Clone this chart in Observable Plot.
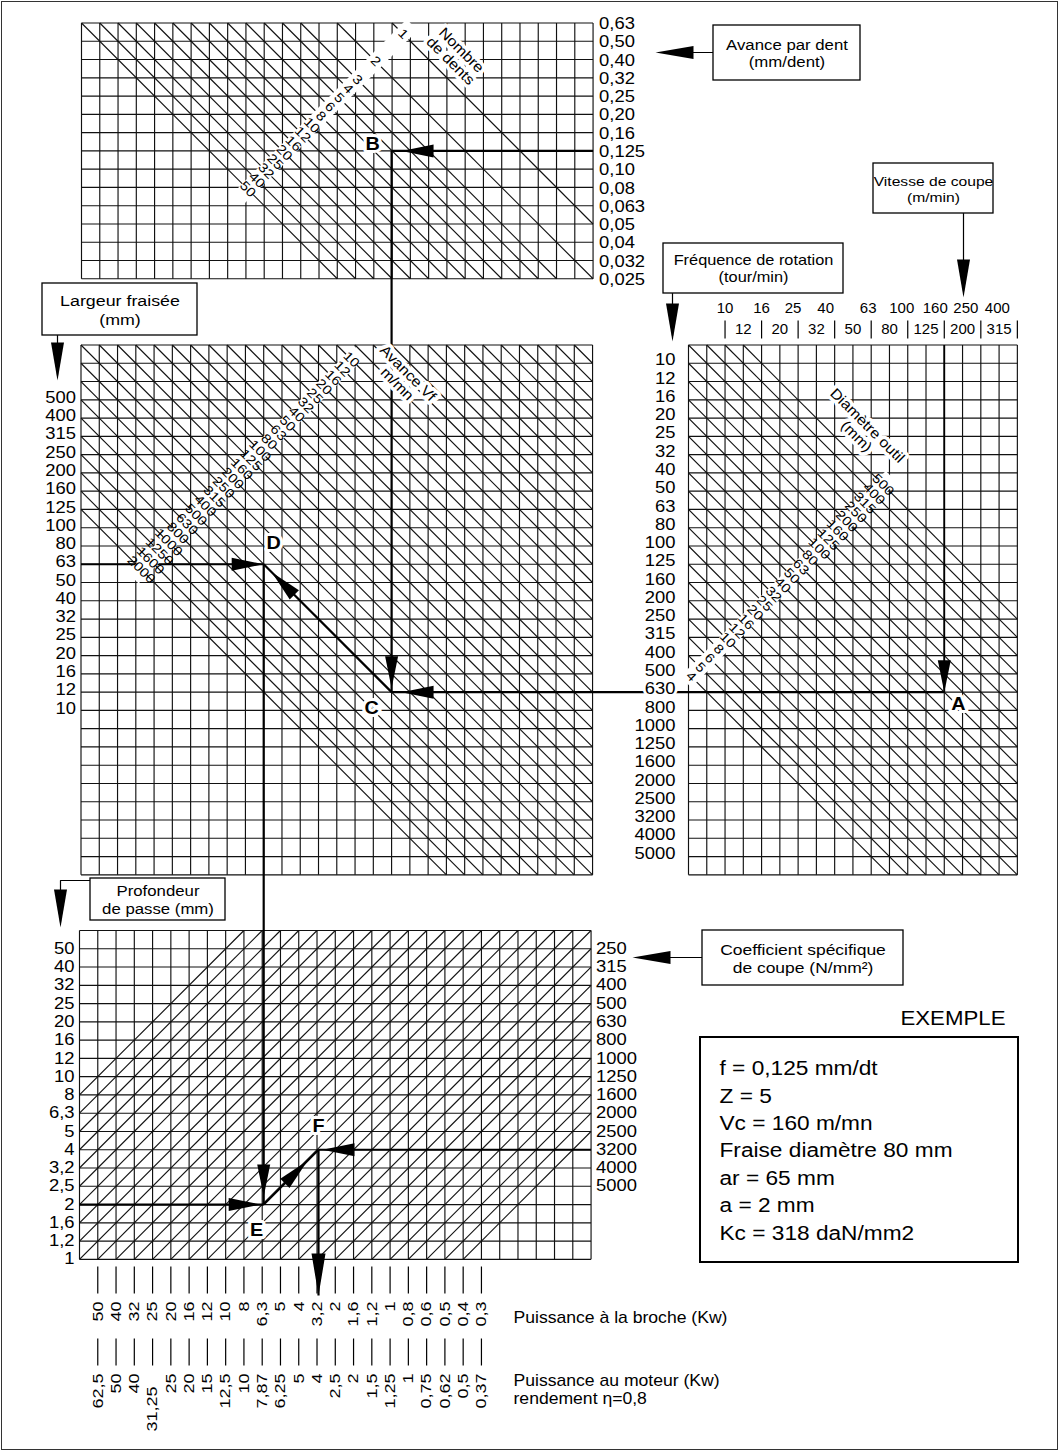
<!DOCTYPE html>
<html><head><meta charset="utf-8">
<script src="https://cdn.jsdelivr.net/npm/d3@7"></script>
<script src="https://cdn.jsdelivr.net/npm/@observablehq/plot@0.6"></script>
<style>body{margin:0;background:#fff}</style>
</head><body><div id="chart"></div>
<script>
// ---------------- DATA ----------------
// Avance par dent (mm/dent) – rows of the top panel (grid lines 0..14)
const fzTicks = ["0,63","0,50","0,40","0,32","0,25","0,20","0,16","0,125","0,10","0,08","0,063","0,05","0,04","0,032","0,025"];
// Nombre de dents – diagonal labels of the top panel, and the diagonal they sit on
const teethLabels = ["50","40","32","25","20","16","12","10","8","6","5","4","3","2","1"];
const teethDiag   = [0,1,2,3,4,5,6,7,8,9,10,11,12,14,17];
// Largeur fraisée (mm) – grid lines 3..20 of the middle-left panel
const widthTicks = ["500","400","315","250","200","160","125","100","80","63","50","40","32","25","20","16","12","10"];
// Avance Vf (mm/mn) – diagonal labels of the middle-left panel (diagonal 14 - i)
const feedLabels = ["10","12","16","20","25","32","40","50","63","80","100","125","160","200","250","315","400","500","630","800","1000","1250","1600","2000"];
// Fréquence de rotation (tour/min) – grid lines 1..28 of the right panel
const speedTicks = ["10","12","16","20","25","32","40","50","63","80","100","125","160","200","250","315","400","500","630","800","1000","1250","1600","2000","2500","3200","4000","5000"];
// Vitesse de coupe (m/min) – columns 2..18 of the right panel
const vcTicks = ["10","12","16","20","25","32","40","50","63","80","100","125","160","200","250","315","400"];
// Diamètre outil (mm) – diagonal labels of the right panel (diagonal i - 18)
const diamLabels = ["4","5","6","8","10","12","16","20","25","32","40","50","63","80","100","125","160","200","250","315","400","500"];
// Profondeur de passe (mm) – grid lines 1..18 of the bottom panel
const depthTicks = ["50","40","32","25","20","16","12","10","8","6,3","5","4","3,2","2,5","2","1,6","1,2","1"];
// Coefficient spécifique de coupe (N/mm²) – grid lines 1..14 of the bottom panel
const kcTicks = ["250","315","400","500","630","800","1000","1250","1600","2000","2500","3200","4000","5000"];
// Power scales – columns 1..22 of the bottom panel
const spindlePower = ["50","40","32","25","20","16","12","10","8","6,3","5","4","3,2","2","1,6","1,2","1","0,8","0,6","0,5","0,4","0,3"];
const motorPower   = ["62,5","50","40","31,25","25","20","15","12,5","10","7,87","6,25","5","4","2,5","2","1,5","1,25","1","0,75","0,62","0,5","0,37"];
// Worked example (values read on the scales)
const example = {fz: "0,125", Z: "5", Vc: "160", D: "80", ar: "63", a: "2", Kc: "3200"};
const exampleText = ["f = 0,125 mm/dt","Z = 5","Vc = 160 m/mn","Fraise diamètre 80 mm","ar = 65 mm","a = 2 mm","Kc = 318 daN/mm2"];

// ---------------- LAYOUT ----------------
const W = 1058, H = 1450;
const FONT = "'Liberation Sans', Arial, Helvetica, sans-serif";
const CELL = 18.27;
const P = {
  top:   {x0: 81,   y0: 22.5,  cols: 28, rows: 14},
  mid:   {x0: 80.5, y0: 344.5, cols: 28, rows: 29},
  right: {x0: 688,  y0: 344.5, cols: 18, rows: 29},
  bot:   {x0: 79,   y0: 930,   cols: 28, rows: 18}
};
const X = (p, c) => P[p].x0 + c * CELL;
const Y = (p, r) => P[p].y0 + r * CELL;
// print offsets of the upper Vc row (the printed row is slightly compressed) and of the "31,25" label
const vcTopShift = [0, 0, -5, -9, -3, -6, -9, -15, -20];
const motorShift = motorPower.map(d => d === "31,25" ? 13 : 0);

// grid
const grid = [];
for (const name of Object.keys(P)) {
  const p = P[name];
  for (let c = 0; c <= p.cols; c++) grid.push({x1: X(name, c), y1: Y(name, 0), x2: X(name, c), y2: Y(name, p.rows)});
  for (let r = 0; r <= p.rows; r++) grid.push({x1: X(name, 0), y1: Y(name, r), x2: X(name, p.cols), y2: Y(name, r)});
}
// "\" diagonals: col - row = k
function backDiag(name, k) {
  const p = P[name];
  const c1 = Math.max(0, k), c2 = Math.min(p.cols, p.rows + k);
  return {x1: X(name, c1), y1: Y(name, c1 - k), x2: X(name, c2), y2: Y(name, c2 - k)};
}
// "/" diagonals: col + row = s
function fwdDiag(name, s) {
  const p = P[name];
  const c1 = Math.max(0, s - p.rows), c2 = Math.min(p.cols, s);
  return {x1: X(name, c1), y1: Y(name, s - c1), x2: X(name, c2), y2: Y(name, s - c2)};
}
const diags = [];
teethDiag.forEach(k => diags.push(backDiag("top", k)));
for (let k = -(feedLabels.length - 15); k <= 27; k++) diags.push(backDiag("mid", k));
diamLabels.forEach((d, i) => diags.push(backDiag("right", i - 18)));
for (let s = 9; s <= 39; s++) diags.push(fwdDiag("bot", s));

// label bands along anti-diagonals
const SUM = {top: 18.2, mid: 15.6, right: 18.3};
const onBand = (name, k) => ({x: X(name, (SUM[name] + k) / 2), y: Y(name, (SUM[name] - k) / 2)});
const bandEnds = (name, ka, kb) => { const a = onBand(name, ka), b = onBand(name, kb); return {x1: a.x, y1: a.y, x2: b.x, y2: b.y}; };
const bands = [bandEnds("top", -0.9, 18), bandEnds("mid", 14.9, -9.9), bandEnds("right", 3.9, -18.6)];
const diagTexts = [
  ...teethLabels.map((t, i) => ({...onBand("top", teethDiag[i]), t})),
  ...feedLabels.map((t, i) => ({...onBand("mid", 14 - i), t})),
  ...diamLabels.map((t, i) => ({...onBand("right", i - 18), t}))
];
const bandTitles = [
  {x: X("top", 20.5), y: Y("top", 1.78), t: "Nombre\nde dents"},
  {x: X("mid", 17.6), y: Y("mid", 1.83), t: "Avance Vf\nm/mn"},
  {x: X("right", 9.5), y: Y("right", 4.7), t: "Diamètre outil\n(mm)"}
];

// worked example path computed from the scales
const rB = fzTicks.indexOf(example.fz);
const cB = teethDiag[teethLabels.indexOf(example.Z)] + rB;
const cA = vcTicks.indexOf(example.Vc) + 2;
const rA = cA - (diamLabels.indexOf(example.D) - 18);
const kC = cB - rA;
const rD = widthTicks.indexOf(example.ar) + 3;
const cD = kC + rD;
const rE = depthTicks.indexOf(example.a) + 1;
const rF = kcTicks.indexOf(example.Kc) + 1;
const A = {x: X("right", cA), y: Y("right", rA)};
const B = {x: X("mid", cB), y: Y("top", rB)};
const C = {x: X("mid", cB), y: Y("mid", rA)};
const D = {x: X("mid", cD), y: Y("mid", rD)};
const E = {x: D.x, y: Y("bot", rE)};
const F = {x: E.x + (rE - rF) * CELL, y: Y("bot", rF)};
const Pw = {x: F.x, y: 1295};
const seg = (a, b) => ({x1: a.x, y1: a.y, x2: b.x, y2: b.y});
const pathSegs = [
  seg({x: X("top", 28), y: B.y}, B), seg(B, C), seg(A, C), seg(C, D),
  seg({x: X("mid", 0), y: D.y}, D), seg(D, E), seg({x: X("bot", 0), y: E.y}, E),
  seg(E, F), seg({x: X("bot", 28), y: F.y}, F), seg(F, Pw)
];
const vcLine = seg({x: A.x, y: Y("right", 0)}, A);
const heads = [
  {x: B.x + 10, y: B.y, rot: 270}, {x: C.x, y: C.y - 4, rot: 180}, {x: A.x, y: A.y, rot: 180},
  {x: C.x + 10, y: C.y, rot: 270}, {x: D.x + 8, y: D.y + 8, rot: -45}, {x: D.x, y: D.y, rot: 90},
  {x: E.x, y: E.y - 8, rot: 180}, {x: E.x - 3, y: E.y, rot: 90}, {x: F.x - 11, y: F.y + 11, rot: 45},
  {x: F.x + 4, y: F.y, rot: 270}
];
const longHeads = [{x: Pw.x, y: Pw.y, rot: 180}];
const letters = [
  {p: A, t: "A", dx: 14, dy: 12}, {p: B, t: "B", dx: -19, dy: -7}, {p: C, t: "C", dx: -20, dy: 16},
  {p: D, t: "D", dx: 10, dy: -21}, {p: E, t: "E", dx: -7, dy: 26}, {p: F, t: "F", dx: 0, dy: -24}
].map(d => ({x: d.p.x + d.dx, y: d.p.y + d.dy, t: d.t}));

// boxes with their pointer arrows
const boxes = [
  {x1: 713, x2: 860, y1: 25,  y2: 80,  fs: 14.6, t: "Avance par dent\n(mm/dent)"},
  {x1: 873, x2: 993, y1: 163, y2: 213, fs: 13.6, t: "Vitesse de coupe\n(m/min)"},
  {x1: 663, x2: 843, y1: 243, y2: 293, fs: 14.2, t: "Fréquence de rotation\n(tour/min)"},
  {x1: 42,  x2: 197, y1: 283, y2: 335, fs: 15.5, t: "Largeur fraisée\n(mm)"},
  {x1: 90,  x2: 225, y1: 878, y2: 920, fs: 14.6, t: "Profondeur\nde passe (mm)"},
  {x1: 702, x2: 903, y1: 930, y2: 985, fs: 15.2, t: "Coefficient spécifique\nde coupe (N/mm²)"}
];
const ptrLines = [
  [{x: 713, y: 52}, {x: 660, y: 52}],
  [{x: 963, y: 213}, {x: 963, y: 290}],
  [{x: 672, y: 293}, {x: 672, y: 335}],
  [{x: 57, y: 335}, {x: 57, y: 375}],
  [{x: 90, y: 880}, {x: 60, y: 880}, {x: 60, y: 922}],
  [{x: 702, y: 957}, {x: 638, y: 957}]
].flatMap((pts, id) => pts.map(p => ({...p, id})));
const ptrHeads = [
  {x: 655, y: 52, rot: 270}, {x: 963, y: 297, rot: 180}, {x: 672, y: 341, rot: 180},
  {x: 57, y: 380, rot: 180}, {x: 60, y: 927, rot: 180}, {x: 632, y: 957, rot: 270}
];

// arrowhead symbol (tip at origin, pointing up)
const head = (L, Wd) => ({draw(ctx) { ctx.moveTo(0, 0); ctx.lineTo(-Wd / 2, L); ctx.lineTo(Wd / 2, L); ctx.closePath(); }});

// power scale ticks
const powerTicks = spindlePower.flatMap((s, i) => [
  {x1: X("bot", i + 1), x2: X("bot", i + 1), y1: 1266, y2: 1293},
  {x1: X("bot", i + 1), x2: X("bot", i + 1), y1: 1338, y2: 1365}
]);
const vcMarks = vcTicks.filter((d, i) => i % 2 === 0).map((d, j) => ({x1: X("right", 2 + 2 * j), x2: X("right", 2 + 2 * j), y1: 320, y2: 338}));

const GRID = "#111";
const halo = {fill: "black", stroke: "white", paintOrder: "stroke"};
const TICK = 16;
const chart = Plot.plot({
  width: W, height: H, margin: 0,
  x: {domain: [0, W], range: [0, W], axis: null},
  y: {domain: [0, H], range: [0, H], axis: null},
  style: {fontFamily: FONT, background: "white", color: "black"},
  marks: [
    Plot.frame({inset: 1, stroke: "#333"}),
    Plot.link(grid, {x1: "x1", y1: "y1", x2: "x2", y2: "y2", stroke: GRID, strokeWidth: 1.15}),
    Plot.link(diags, {x1: "x1", y1: "y1", x2: "x2", y2: "y2", stroke: GRID, strokeWidth: 1.15}),
    Plot.link([vcLine], {x1: "x1", y1: "y1", x2: "x2", y2: "y2", stroke: "black", strokeWidth: 1.8}),
    Plot.link(pathSegs, {x1: "x1", y1: "y1", x2: "x2", y2: "y2", stroke: "black", strokeWidth: 2.2}),
    Plot.link(bands, {x1: "x1", y1: "y1", x2: "x2", y2: "y2", stroke: "white", strokeWidth: 15.5}),
    Plot.text(diagTexts, {x: "x", y: "y", text: "t", rotate: 45, fontSize: 13, fill: "black", className: "sx115"}),
    Plot.text(bandTitles, {x: "x", y: "y", text: "t", rotate: 45, fontSize: 14.5, lineHeight: 1.05, ...halo, strokeWidth: 7, className: "sx110"}),
    // tick labels
    Plot.text(fzTicks, {x: () => X("top", 28) + 6, y: (d, i) => Y("top", i) + 1, text: d => d, textAnchor: "start", fontSize: TICK, fill: "black", className: "sx115"}),
    Plot.text(widthTicks, {x: () => X("mid", 0) - 5, y: (d, i) => Y("mid", i + 3) - 2, text: d => d, textAnchor: "end", fontSize: TICK, fill: "black", className: "sx115"}),
    Plot.text(speedTicks, {x: () => X("right", 0) - 13, y: (d, i) => Y("right", i + 1) - 3, text: d => d, textAnchor: "end", fontSize: TICK, ...halo, strokeWidth: 5, className: "sx115"}),
    Plot.text(vcTicks, {x: (d, i) => X("right", i + 2) + (i % 2 ? 0 : vcTopShift[i / 2]), y: (d, i) => i % 2 ? 329 : 308, text: d => d, fontSize: 15, fill: "black"}),
    Plot.link(vcMarks, {x1: "x1", y1: "y1", x2: "x2", y2: "y2", stroke: "black", strokeWidth: 1.2}),
    Plot.text(depthTicks, {x: () => X("bot", 0) - 5, y: (d, i) => Y("bot", i + 1), text: d => d, textAnchor: "end", fontSize: TICK, fill: "black", className: "sx115"}),
    Plot.text(kcTicks, {x: () => X("bot", 28) + 5, y: (d, i) => Y("bot", i + 1), text: d => d, textAnchor: "start", fontSize: TICK, fill: "black", className: "sx115"}),
    Plot.link(powerTicks, {x1: "x1", y1: "y1", x2: "x2", y2: "y2", stroke: "black", strokeWidth: 1.2}),
    Plot.text(spindlePower, {x: (d, i) => X("bot", i + 1), y: () => 1301, text: d => d, rotate: -90, textAnchor: "end", fontSize: 15, fill: "black", className: "sx120"}),
    Plot.text(motorPower, {x: (d, i) => X("bot", i + 1), y: (d, i) => 1373 + motorShift[i], text: d => d, rotate: -90, textAnchor: "end", fontSize: 15, fill: "black", className: "sx120"}),
    Plot.text(["Puissance à la broche (Kw)"], {x: () => 513, y: () => 1317, text: d => d, textAnchor: "start", fontSize: 16, fill: "black", className: "sx110"}),
    Plot.text(["Puissance au moteur (Kw)\nrendement η=0,8"], {x: () => 513, y: () => 1389, text: d => d, textAnchor: "start", fontSize: 16, lineHeight: 1.1, fill: "black", className: "sx110"}),
    // arrowheads of the example path
    Plot.dot(heads, {x: "x", y: "y", rotate: "rot", r: 5, symbol: head(32, 13), fill: "black", stroke: "none"}),
    Plot.dot(longHeads, {x: "x", y: "y", rotate: "rot", r: 5, symbol: head(42, 14), fill: "black", stroke: "none"}),
    Plot.text(letters, {x: "x", y: "y", text: "t", fontSize: 18, fontWeight: "bold", ...halo, strokeWidth: 6, className: "sx110"}),
    // boxes
    Plot.line(ptrLines, {x: "x", y: "y", z: "id", stroke: "black", strokeWidth: 1.2}),
    Plot.dot(ptrHeads, {x: "x", y: "y", rotate: "rot", r: 5, symbol: head(38, 13), fill: "black", stroke: "none"}),
    Plot.rect(boxes, {x1: "x1", x2: "x2", y1: "y1", y2: "y2", fill: "white", stroke: "black", strokeWidth: 1.3}),
    Plot.text(boxes, {x: d => (d.x1 + d.x2) / 2, y: d => (d.y1 + d.y2) / 2, text: "t", fontSize: "fs", lineHeight: 1.2, fill: "black", className: "sx115"}),
    // example box
    Plot.text(["EXEMPLE"], {x: () => 1005, y: () => 1018, text: d => d, textAnchor: "end", fontSize: 21, fill: "black", className: "sx106"}),
    Plot.rect([{}], {x1: () => 700, x2: () => 1018, y1: () => 1037, y2: () => 1262, fill: "none", stroke: "black", strokeWidth: 2}),
    Plot.text(exampleText, {x: () => 719, y: (d, i) => 1068 + i * 27.4, text: d => d, textAnchor: "start", fontSize: 21, fill: "black", className: "sx108"})
  ]
});
// the printed lettering is slightly extended: widen glyphs along their own baseline
for (const [cls, s] of [["sx106", 1.06], ["sx108", 1.08], ["sx110", 1.1], ["sx115", 1.15], ["sx120", 1.2]]) {
  chart.querySelectorAll(`.${cls} text`).forEach(t => t.setAttribute("transform", (t.getAttribute("transform") || "") + ` scale(${s},1)`));
}
document.getElementById("chart").appendChild(chart);
</script></body></html>
